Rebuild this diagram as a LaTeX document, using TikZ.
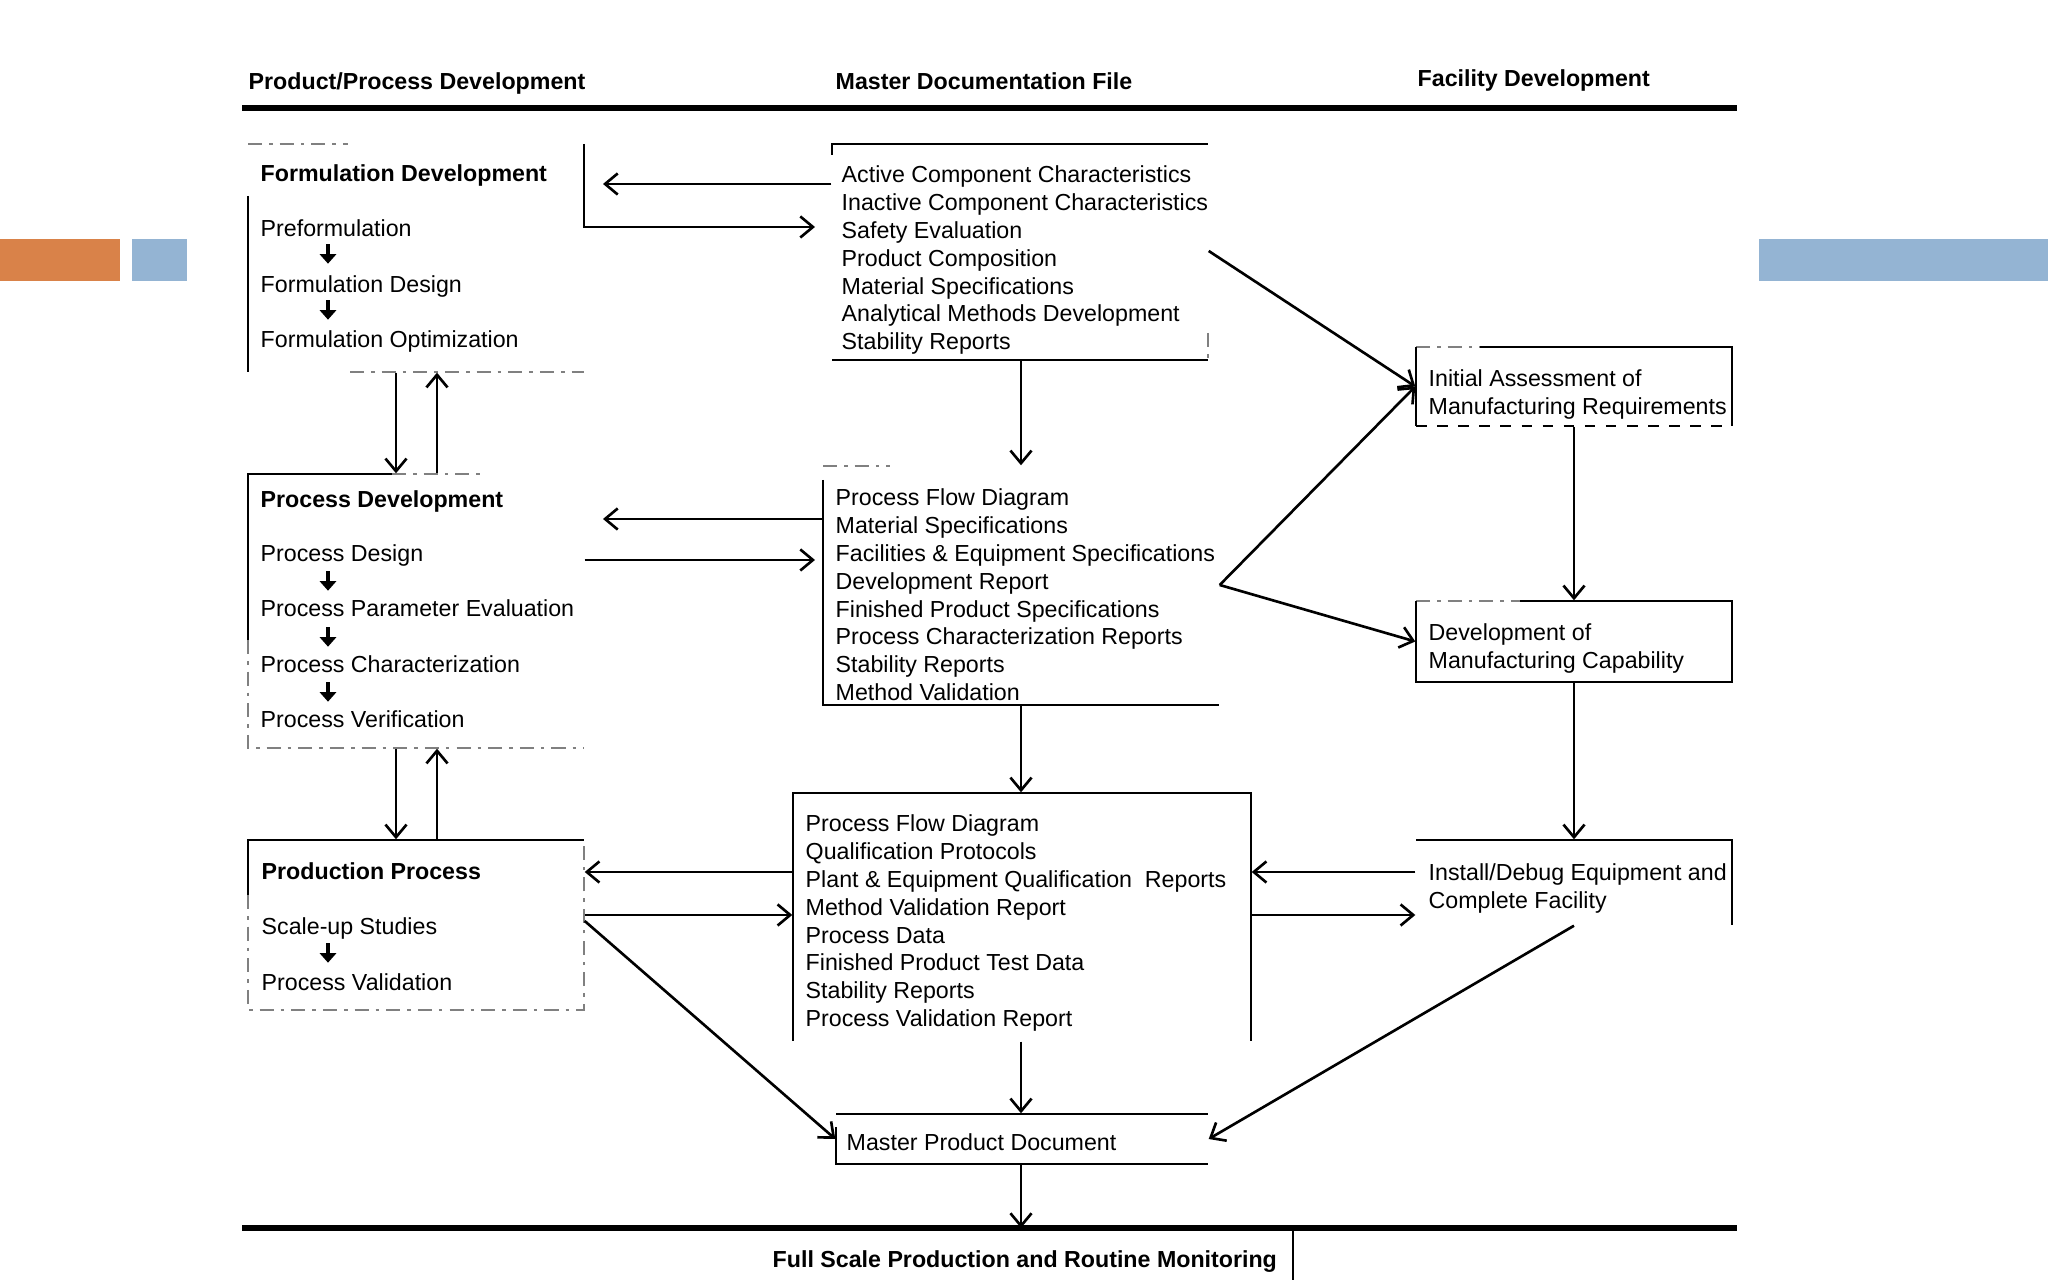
\documentclass[tikz,border=0pt]{standalone}
\usepackage{fontspec}
\setmainfont{Liberation Sans}
\usetikzlibrary{arrows.meta,fit}
\definecolor{orangec}{RGB}{217,130,73}
\definecolor{bluec}{RGB}{148,180,211}
\begin{document}
\begin{tikzpicture}[x=0.01cm,y=-0.01cm,
  txt/.style={inner sep=0pt, anchor=base west, font=\fontsize{6.6}{7.93}\selectfont},
  btxt/.style={inner sep=0pt, anchor=base west, font=\fontsize{6.6}{7.93}\selectfont\bfseries},
  list/.style={inner sep=0pt, anchor=north west, align=left, font=\fontsize{6.6}{7.93}\selectfont},
  area/.style={inner sep=0pt, draw=none},
  edge/.style={line width=0.55pt},
  faint/.style={line width=0.45pt, draw=black!50, dash pattern=on 4pt off 2pt on 1pt off 2pt},
  arr/.style={line width=0.75pt, -{Straight Barb[length=3.6pt,width=6pt]}},
  rulel/.style={line width=1.6pt},
  minspot/.style={inner sep=0pt, draw=none, minimum width=0.02cm, minimum height=0.18cm},
  minar/.style={line width=1.4pt, -{Triangle[length=2.7pt,width=4.6pt]}}
]
\useasboundingbox (0,0) rectangle (2048,1280);
\fill[white] (0,0) rectangle (2048,1280);
% decorative bars
\fill[orangec] (0,239) rectangle (120,281);
\fill[bluec] (132,239) rectangle (187,281);
\fill[bluec] (1759,239) rectangle (2048,281);

% rules
\coordinate (trL) at (242,108); \coordinate (trR) at (1737,108);
\coordinate (brL) at (242,1228); \coordinate (brR) at (1737,1228);
\draw[rulel] (trL) -- (trR);
\draw[rulel] (brL) -- (brR);
\coordinate (bvT) at (1293,1228); \coordinate (bvB) at (1293,1280);
\draw[edge] (bvT) -- (bvB);

% headers
\node[btxt] (h1) at (248,90) {Product/Process Development};
\node[btxt] (h2) at (835,90) {Master Documentation File};
\node[btxt] (h3) at (1417,87) {Facility Development};
\node[btxt] (foot) at (772,1268) {Full Scale Production and Routine Monitoring};

% box areas
\node[area, fit={(248,144) (584,372)}] (fd) {};
\node[area, fit={(248,474) (584,748)}] (pd) {};
\node[area, fit={(248,840) (584,1010)}] (pp) {};
\node[area, fit={(832,144) (1208,360)}] (m1) {};
\node[area, fit={(823,466) (1219,705)}] (m2) {};
\node[area, fit={(793,793) (1251,1041)}] (m3) {};
\node[area, fit={(836,1114) (1208,1164)}] (mpd) {};
\node[area, fit={(1416,347) (1732,426)}] (r1) {};
\node[area, fit={(1416,601) (1732,682)}] (r2) {};
\node[area, fit={(1416,840) (1732,925)}] (r3) {};

% box borders (as printed, partly broken)
\draw[faint] (248,144) -- (348,144);
\draw[edge] (248,196) -- (248,372);
\draw[edge] (584,144) -- (584,228);
\draw[faint] (350,372) -- (584,372);

\draw[edge] (248,640) -- (248,474) -- (392,474);
\draw[faint] (392,474) -- (480,474);
\draw[faint] (248,640) -- (248,748) -- (584,748);

\draw[edge] (248,895) -- (248,840) -- (584,840);
\draw[faint] (248,895) -- (248,1010) -- (584,1010) -- (584,840);

\draw[edge] (832,155) -- (832,144) -- (1208,144);
\draw[edge] (832,360) -- (1208,360);
\draw[faint] (1208,333) -- (1208,360);

\draw[faint] (823,466) -- (890,466);
\draw[edge] (823,480) -- (823,705) -- (1219,705);

\draw[edge] (793,822) -- (793,793) -- (1251,793) -- (1251,1041);
\draw[edge] (793,822) -- (793,1041);

\draw[edge] (836,1114) -- (1208,1114);
\draw[edge] (836,1127) -- (836,1164) -- (1208,1164);

\draw[faint] (1416,347) -- (1480,347);
\draw[edge] (1480,347) -- (1732,347) -- (1732,426);
\draw[edge] (1416,347) -- (1416,426);
\draw[edge, dashed] (1416,426) -- (1732,426);

\draw[faint] (1416,601) -- (1520,601);
\draw[edge] (1520,601) -- (1732,601) -- (1732,682) -- (1416,682) -- (1416,601);

\draw[edge] (1416,840) -- (1732,840) -- (1732,925);

% left column texts
\node[btxt] (fdT) at (260,182) {Formulation Development};
\node[txt] (fd1) at (260,237) {Preformulation};
\node[minspot] (fda1) at (328,254) {};
\node[txt] (fd2) at (260,293) {Formulation Design};
\node[minspot] (fda2) at (328,310) {};
\node[txt] (fd3) at (260,348) {Formulation Optimization};

\node[btxt] (pdT) at (260,508) {Process Development};
\node[txt] (pd1) at (260,562) {Process Design};
\node[minspot] (pda1) at (328,581) {};
\node[txt] (pd2) at (260,617) {Process Parameter Evaluation};
\node[minspot] (pda2) at (328,637) {};
\node[txt] (pd3) at (260,673) {Process Characterization};
\node[minspot] (pda3) at (328,692) {};
\node[txt] (pd4) at (260,728) {Process Verification};

\node[btxt] (ppT) at (261,880) {Production Process};
\node[txt] (pp1) at (261,935) {Scale-up Studies};
\node[minspot] (ppa1) at (328,953) {};
\node[txt] (pp2) at (261,991) {Process Validation};

\foreach \a in {fda1,fda2,pda1,pda2,pda3,ppa1}{
  \draw[minar] (\a.north) -- (\a.south);
}

% middle texts
\node[list] (m1t) at (841,165) {Active Component Characteristics\\Inactive Component Characteristics\\Safety Evaluation\\Product Composition\\Material Specifications\\Analytical Methods Development\\Stability Reports};
\node[list] (m2t) at (835,488) {Process Flow Diagram\\Material Specifications\\Facilities \& Equipment Specifications\\Development Report\\Finished Product Specifications\\Process Characterization Reports\\Stability Reports\\Method Validation};
\node[list] (m3t) at (805,814) {Process Flow Diagram\\Qualification Protocols\\Plant \& Equipment Qualification\ \ Reports\\Method Validation Report\\Process Data\\Finished Product Test Data\\Stability Reports\\Process Validation Report};
\node[txt] (mpdt) at (846,1151) {Master Product Document};

% right texts
\node[list] (r1t) at (1428,369) {Initial Assessment of\\Manufacturing Requirements};
\node[list] (r2t) at (1428,623) {Development of\\Manufacturing Capability};
\node[list] (r3t) at (1428,863) {Install/Debug Equipment and\\Complete Facility};

% helper coordinates
\coordinate (cxA) at (396,0);
\coordinate (cxB) at (437,0);
\coordinate (cxM) at (1021,0);
\coordinate (cxR) at (1574,0);
\coordinate (y251) at (0,251);
\coordinate (y585) at (0,585);
\coordinate (y872) at (0,872);
\coordinate (y915) at (0,915);
\coordinate (y921) at (0,921);
\coordinate (fdIn) at (603,184);
\coordinate (m1In) at (815,227);
\coordinate (pdIn) at (603,519);
\coordinate (m2In) at (815,560);

% connectors
\draw[arr] (cxA |- fd.south) -- (cxA |- pd.north);
\draw[arr] (cxB |- pd.north) -- (cxB |- fd.south);
\draw[arr] (cxA |- pd.south) -- (cxA |- pp.north);
\draw[arr] (cxB |- pp.north) -- (cxB |- pd.south);

\draw[arr] (m1.west |- fdIn) -- (fdIn);
\draw[arr] (fd.east |- m1In) -- (m1In);
\draw[arr] (m2.west |- pdIn) -- (pdIn);
\draw[arr] (pd.east |- m2In) -- (m2In);
\draw[arr] (m3.west |- y872) -- (pp.east |- y872);
\draw[arr] (pp.east |- y915) -- (m3.west |- y915);

\draw[arr] (cxM |- m1.south) -- (cxM |- m2.north);
\draw[arr] (cxM |- m2.south) -- (cxM |- m3.north);
\draw[arr] (cxM |- m3.south) -- (cxM |- mpd.north);
\draw[arr] (cxM |- mpd.south) -- (cxM |- brL);

\draw[arr] (pp.east |- y921) -- (mpd.west);
\draw[arr] (cxR |- r3.south) -- (mpd.east);

\draw[arr] (m1.east |- y251) -- (r1.west);
\draw[arr] (m2.east |- y585) -- (r1.west);
\draw[arr] (m2.east |- y585) -- (r2.west);
\draw[arr] (cxR |- r1.south) -- (cxR |- r2.north);
\draw[arr] (cxR |- r2.south) -- (cxR |- r3.north);
\draw[arr] (r3.west |- y872) -- (m3.east |- y872);
\draw[arr] (m3.east |- y915) -- (r3.west |- y915);
\end{tikzpicture}
\end{document}
